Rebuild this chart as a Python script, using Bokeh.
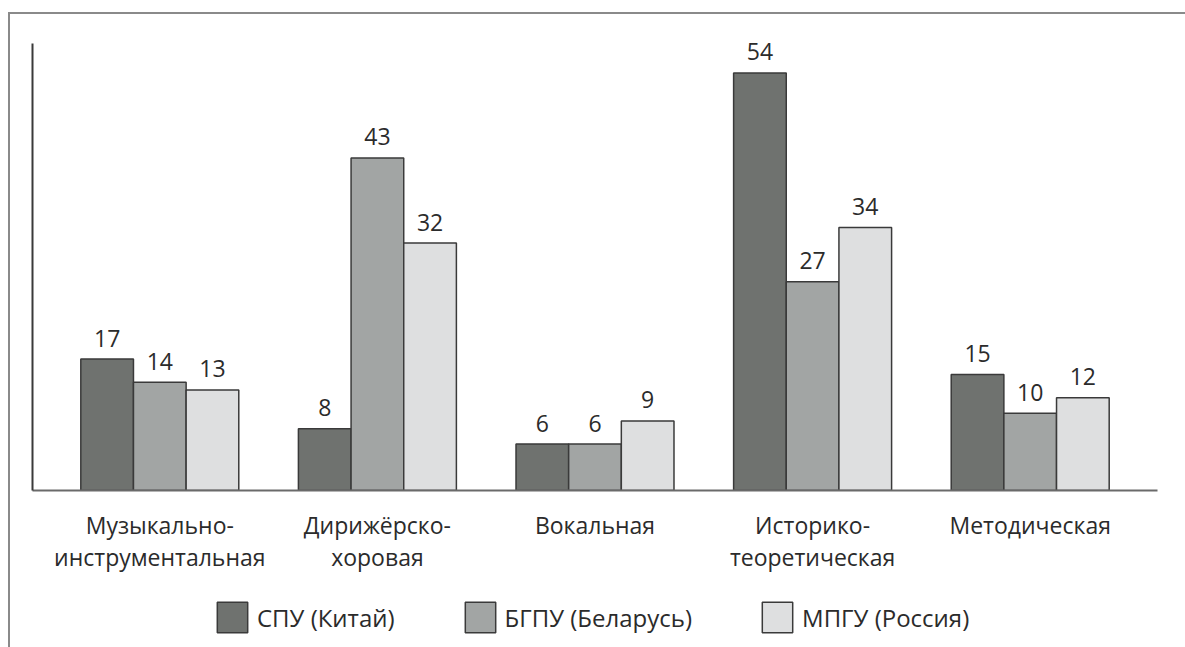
from bokeh.plotting import figure
from bokeh.layouts import column
from bokeh.models import FactorRange, Range1d, ColumnDataSource, Legend, LegendItem, FixedTicker
from bokeh.transform import dodge
from bokeh.core.properties import value
from bokeh.embed import file_html
from bokeh.resources import INLINE

categories = ["Музыкально-\nинструментальная", "Дирижёрско-\nхоровая", "Вокальная",
              "Историко-\nтеоретическая", "Методическая"]
series_names = ["СПУ (Китай)", "БГПУ (Беларусь)", "МПГУ (Россия)"]
spu = [17, 8, 6, 54, 15]
bgpu = [14, 43, 6, 27, 10]
mpgu = [13, 32, 9, 34, 12]

colors = ["#6f726f", "#a2a5a4", "#dedfe0"]
FONT = "Open Sans"
TEXT_COLOR = "#2b2b2b"
W, H1, H2 = 1175, 580, 53

data = dict(cat=categories, spu=spu, bgpu=bgpu, mpgu=mpgu,
            spu_t=[str(v) for v in spu], bgpu_t=[str(v) for v in bgpu], mpgu_t=[str(v) for v in mpgu])
source = ColumnDataSource(data)

p = figure(x_range=FactorRange(factors=categories, range_padding=0.034),
           y_range=Range1d(0, 60), width=W, height=H1,
           output_backend="svg", toolbar_location=None,
           min_border_left=22, min_border_right=28, min_border_top=12, min_border_bottom=H1 - 476)

bw = 0.242
offsets = [-bw, 0.0, bw]
for key, off, col in zip(["spu", "bgpu", "mpgu"], offsets, colors):
    p.vbar(x=dodge("cat", off, range=p.x_range), top=key, width=bw, source=source,
           fill_color=col, line_color="#3a3a3a", line_width=1.5)
    p.text(x=dodge("cat", off, range=p.x_range), y=key, text=key + "_t", source=source,
           text_align="center", text_baseline="alphabetic", y_offset=-21,
           text_font=value(FONT), text_font_size="23px", text_color=TEXT_COLOR)

p.xgrid.visible = False
p.ygrid.visible = False
p.outline_line_color = None
p.background_fill_color = "white"

p.xaxis.axis_line_color = "#6a6a6a"
p.xaxis.axis_line_width = 2
p.xaxis.major_tick_line_color = None
p.xaxis.minor_tick_line_color = None
p.xaxis.major_label_standoff = 12
p.xaxis.major_label_text_font = FONT
p.xaxis.major_label_text_font_size = "23px"
p.xaxis.major_label_text_line_height = 1.0
p.xaxis.major_label_text_color = TEXT_COLOR

p.yaxis.ticker = FixedTicker(ticks=[])
p.yaxis.bounds = (0, 57.8)
p.yaxis.axis_line_color = "#3a3a3a"
p.yaxis.axis_line_width = 2
p.yaxis.major_tick_line_color = None
p.yaxis.minor_tick_line_color = None

# legend strip (one undrawn bar per series supplies the legend swatch)
p2 = figure(width=W, height=H2, x_range=Range1d(0, 1), y_range=Range1d(0, 1),
            output_backend="svg", toolbar_location=None,
            x_axis_location=None, y_axis_location=None, min_border=0)
p2.xgrid.visible = False
p2.ygrid.visible = False
p2.outline_line_color = None
leg_renderers = []
for col in colors:
    r = p2.vbar(x=[0.5], top=[float("nan")], width=0.1, fill_color=col,
                line_color="#3a3a3a", line_width=1.5)
    leg_renderers.append(r)
legend = Legend(items=[LegendItem(label=n, renderers=[r]) for n, r in zip(series_names, leg_renderers)],
                orientation="horizontal", location=(181, 11),
                glyph_width=38, glyph_height=38, label_standoff=6, spacing=66,
                label_text_font=FONT, label_text_font_size="24px", label_text_color=TEXT_COLOR,
                border_line_color=None, background_fill_alpha=0, padding=0, margin=0)
p2.add_layout(legend, "center")

layout = column(p, p2, spacing=0)
layout.styles = {"border-top": "2px solid #8a8a8a", "border-left": "2px solid #8a8a8a",
                 "margin-left": "8px", "margin-top": "12px"}

open("out.html", "w").write(file_html(layout, INLINE))
